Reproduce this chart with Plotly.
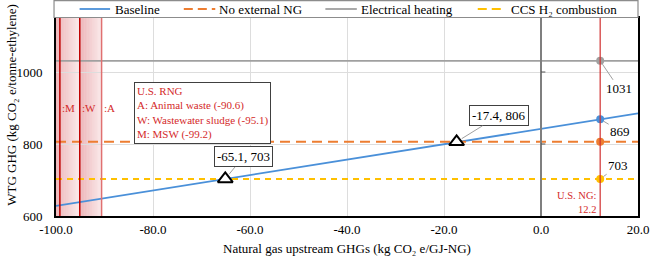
import plotly.graph_objects as go

# ---------------- data ----------------
x_range = [-100.0, 20.0]
y_range = [600, 1150]
x_ticks = [-100, -80, -60, -40, -20, 0, 20]
y_ticks = [600, 800, 1000]

baseline_x = [-100.0, 20.0]
baseline_y = [628, 885]
no_ext_ng_y = 806
elec_heat_y = 1031
ccs_h2_y = 703

us_ng_x = 12.2
us_ng_values = [1031, 869, 806, 703]          # electrical, baseline, no ext NG, CCS H2
us_ng_labels = ["1031", "869", None, "703"]

cross_x = [-65.1, -17.4]
cross_y = [703, 806]

rng_codes = ["M", "W", "A"]
rng_x = [-99.2, -95.1, -90.6]
rng_names = ["MSW", "Wastewater sludge", "Animal waste"]

series_names = ["Baseline", "No external NG", "Electrical heating", "CCS H₂ combustion"]

# ---------------- style ----------------
FONT = "Liberation Serif"
BLUE = "#4A90D9"
ORANGE = "#ED7D31"
GRAY = "#A0A0A0"
YELLOW = "#FFC000"
RED = "#C00000"
RED_TXT = "#D42A2A"

W, H = 661, 259
L, R, T, B = 56, 648, 18, 216
PW, PH = R - L, B - T


def px_x(p):
    return (p - L) / PW


def px_y(p):
    return (B - p) / PH


fig = go.Figure()

line_styles = [
    dict(color=BLUE, width=1.8),
    dict(color=ORANGE, width=2, dash="10px,6px"),
    dict(color=GRAY, width=1.8),
    dict(color=YELLOW, width=2, dash="6px,5px"),
]

# Baseline
fig.add_trace(go.Scatter(x=baseline_x, y=baseline_y, mode="lines",
                         line=line_styles[0], name=series_names[0], showlegend=False))
# horizontal scenarios
for yv, st, nm in [(no_ext_ng_y, line_styles[1], series_names[1]),
                   (elec_heat_y, line_styles[2], series_names[2]),
                   (ccs_h2_y, line_styles[3], series_names[3])]:
    fig.add_trace(go.Scatter(x=x_range, y=[yv, yv], mode="lines", line=st,
                             name=nm, showlegend=False))

# U.S. NG points
fig.add_trace(go.Scatter(x=[us_ng_x] * len(us_ng_values), y=us_ng_values, mode="markers",
                         marker=dict(size=8, color=[GRAY, BLUE, ORANGE, YELLOW]),
                         showlegend=False, hoverinfo="skip"))

# crossing triangles
fig.add_trace(go.Scatter(x=cross_x, y=cross_y, mode="markers",
                         marker=dict(symbol="triangle-up", size=13, color="white",
                                     line=dict(color="black", width=2)),
                         showlegend=False))

shapes = []

# RNG shaded gradient bands
bands = [(x_range[0], rng_x[1]), (rng_x[1], rng_x[2])]
n = 14
for a, b in bands:
    for i in range(n):
        x0 = a + (b - a) * i / n
        x1 = a + (b - a) * (i + 1) / n
        alpha = 0.32 - 0.22 * i / (n - 1)
        shapes.append(dict(type="rect", xref="x", yref="paper", x0=x0, x1=x1, y0=0, y1=1,
                           fillcolor=f"rgba(200,30,40,{alpha:.3f})", line=dict(width=0),
                           layer="below"))
# RNG lines
rng_line_colors = [RED, RED, "#E07070"]
for xv, c in zip(rng_x, rng_line_colors):
    shapes.append(dict(type="line", xref="x", yref="paper", x0=xv, x1=xv, y0=0, y1=1,
                       line=dict(color=c, width=1.5)))

# x = 0 axis line with small ticks
shapes.append(dict(type="line", xref="x", yref="paper", x0=0, x1=0, y0=0, y1=1,
                   line=dict(color="#7F7F7F", width=2)))
for yv in y_ticks[1:]:
    shapes.append(dict(type="line", xref="x", yref="y", x0=0, x1=0.9, y0=yv, y1=yv,
                       line=dict(color="#555555", width=1)))

# U.S. NG red vertical line
shapes.append(dict(type="line", xref="x", yref="paper", x0=us_ng_x, x1=us_ng_x, y0=0, y1=1,
                   line=dict(color="#D03030", width=1.2)))

# legend box + symbols
shapes.append(dict(type="rect", xref="paper", yref="paper",
                   x0=px_x(54), x1=px_x(648), y0=px_y(17.5), y1=px_y(0.7),
                   line=dict(color="#8C8C8C", width=1.2), fillcolor="white"))
leg_sym = [(80, 111), (186, 218), (330, 362), (485, 513)]
leg_txt = [114, 220, 364, 517]
for (a, b), st in zip(leg_sym, line_styles):
    st2 = dict(st)
    if "dash" in st2:
        st2["dash"] = "9px,5px"
    shapes.append(dict(type="line", xref="paper", yref="paper",
                       x0=px_x(a), x1=px_x(b), y0=px_y(9), y1=px_y(9), line=st2))

annotations = []
for t, nm in zip(leg_txt, series_names):
    annotations.append(dict(xref="paper", yref="paper", x=px_x(t), y=px_y(9.5),
                            text=nm, showarrow=False, xanchor="left", yanchor="middle",
                            font=dict(family=FONT, size=13, color="black")))

# RNG short labels
for code, xv in zip(rng_codes, rng_x):
    annotations.append(dict(x=xv, y=900, text=":" + code, showarrow=False,
                            xanchor="left", yanchor="middle", xshift=0,
                            font=dict(family=FONT, size=11, color=RED_TXT)))

# RNG info box (order A, W, M)
lines = ["U.S. RNG"] + [f"{c}: {nm} ({v})" for c, nm, v in
                        reversed(list(zip(rng_codes, rng_names, rng_x)))]
annotations.append(dict(xref="paper", yref="paper", x=px_x(135), y=px_y(82),
                        text="<br>".join(lines), showarrow=False, align="left",
                        xanchor="left", yanchor="top", bgcolor="white",
                        bordercolor="#404040", borderwidth=1, borderpad=2,
                        font=dict(family=FONT, size=11, color=RED_TXT)))

# U.S. NG label
annotations.append(dict(x=us_ng_x, y=px_y(202), yref="paper", text=f"U.S. NG:<br>{us_ng_x}",
                        showarrow=False, align="right", xanchor="right", yanchor="middle",
                        xshift=-2, font=dict(family=FONT, size=10.5, color=RED_TXT)))

# value labels at U.S. NG
offsets = [(19, 28), (20, 12), None, (18, -13)]
for val, lab, off in zip(us_ng_values, us_ng_labels, offsets):
    if lab is None:
        continue
    annotations.append(dict(x=us_ng_x, y=val, text=lab, showarrow=True, arrowhead=0,
                            arrowcolor=GRAY, arrowwidth=1, ax=off[0], ay=off[1],
                            standoff=4, font=dict(family=FONT, size=13, color="black")))

# crossing labels
cross_off = [(18, -22), (42, -26)]
for xv, yv, off in zip(cross_x, cross_y, cross_off):
    annotations.append(dict(x=xv, y=yv, text=f"{xv}, {yv}", showarrow=True, arrowhead=0,
                            arrowcolor=GRAY, arrowwidth=1, ax=off[0], ay=off[1],
                            standoff=6, bgcolor="white", bordercolor="#404040",
                            borderwidth=1, borderpad=2,
                            font=dict(family=FONT, size=13, color="black")))

# axis titles
annotations.append(dict(xref="paper", yref="paper", x=px_x(10), y=px_y(105),
                        text="WTG GHG (kg CO₂ e/tonne-ethylene)", textangle=-90,
                        showarrow=False, xanchor="center", yanchor="middle",
                        font=dict(family=FONT, size=13, color="black")))
annotations.append(dict(xref="paper", yref="paper", x=0.5, y=px_y(248),
                        text="Natural gas upstream GHGs (kg CO₂ e/GJ-NG)",
                        showarrow=False, xanchor="center", yanchor="middle",
                        font=dict(family=FONT, size=13, color="black")))

fig.update_layout(
    width=W, height=H,
    margin=dict(l=L, r=W - R, t=T, b=H - B, pad=0),
    paper_bgcolor="white", plot_bgcolor="white",
    shapes=shapes, annotations=annotations,
    showlegend=False,
    font=dict(family=FONT, size=13, color="black"),
)
fig.update_xaxes(range=x_range, tickvals=x_ticks, ticktext=[f"{v:.1f}" for v in x_ticks],
                 showgrid=True, gridcolor="#DDDDDD", gridwidth=1, zeroline=False,
                 showline=True, linecolor="black", linewidth=2, mirror=True,
                 ticks="", ticklabelstandoff=0,
                 tickfont=dict(family=FONT, size=13, color="black"))
fig.update_yaxes(range=y_range, tickvals=y_ticks, showgrid=True, gridcolor="#DDDDDD",
                 gridwidth=1, zeroline=False, showline=True, linecolor="black",
                 linewidth=2, mirror=True, ticks="", ticklabelstandoff=9,
                 tickfont=dict(family=FONT, size=13, color="black"))

fig.write_html("out.html", config={"displayModeBar": False},
               post_script="document.body.style.margin='0';document.body.style.padding='0';")
